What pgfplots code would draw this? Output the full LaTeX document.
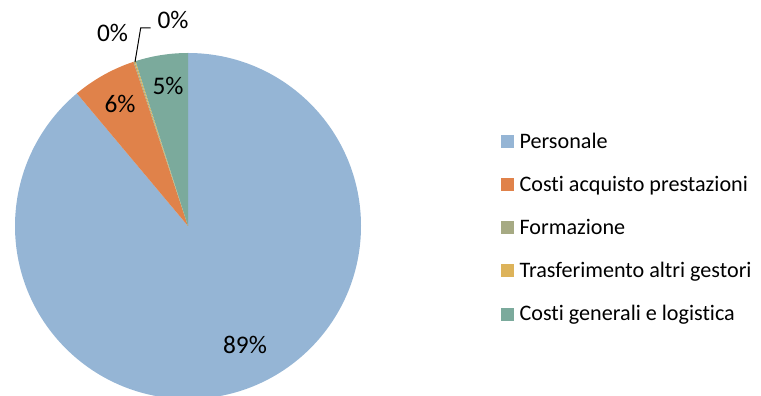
\documentclass[border=0pt]{standalone}
\usepackage{pgfplots}
\pgfplotsset{compat=1.18}
\usepackage{pgfplotstable}
\usepackage{fontspec}
\setmainfont{Carlito}[Ligatures={NoCommon}]

\definecolor{slice0}{HTML}{95B5D5}
\definecolor{slice1}{HTML}{E0824A}
\definecolor{slice2}{HTML}{A6AA83}
\definecolor{slice3}{HTML}{DDB35A}
\definecolor{slice4}{HTML}{7BAA9C}

% shares in percent, clockwise from 12 o'clock
\pgfplotstableread{
share
88.9
6.0
0.1
0.1
4.9
}\piedata

\begin{document}
\begin{tikzpicture}
\begin{axis}[
    scale only axis,
    width=570.75pt, height=297pt,
    xmin=0, xmax=761, ymin=0, ymax=396,
    hide axis,
    clip=true,
    legend cell align=left,
    legend image code/.code={\fill[#1, draw=none] (0pt,-4.9pt) rectangle (9.75pt,4.9pt);},
    legend style={at={(axis cs:501,263.5)}, anchor=north west, draw=none, fill=none,
        font=\fontsize{16.6}{19}\selectfont, row sep=19.4pt, inner sep=0pt,
        nodes={inner xsep=4pt, inner ysep=0pt}},
    ]
    \def\startang{90}
    \pgfplotsforeachungrouped \i in {0,...,4}{%
        \pgfplotstablegetelem{\i}{share}\of\piedata
        \pgfmathsetmacro\endang{\startang-3.6*\pgfplotsretval}%
        \edef\temp{\noexpand\fill[slice\i] (axis cs:188,170) -- ++(\startang:129.75pt)
            arc[start angle=\startang, end angle=\endang, radius=129.75pt] -- cycle;}%
        \temp
        \global\let\startang\endang
    }
    \addlegendimage{fill=slice0}\addlegendentry{Personale}
    \addlegendimage{fill=slice1}\addlegendentry{Costi acquisto prestazioni}
    \addlegendimage{fill=slice2}\addlegendentry{Formazione}
    \addlegendimage{fill=slice3}\addlegendentry{Trasferimento altri gestori}
    \addlegendimage{fill=slice4}\addlegendentry{Costi generali e logistica}

    \begin{scope}[every node/.style={font=\fontsize{19}{22}\selectfont, inner sep=0pt}]
    \node at (axis cs:245,51) {89\%};
    \node at (axis cs:120,292) {6\%};
    \node at (axis cs:168,310) {5\%};
    \node at (axis cs:112.5,363) {0\%};
    \node at (axis cs:173,376) {0\%};
    \end{scope}
    \draw[black, line width=0.75pt] (axis cs:135,334) -- (axis cs:140.7,368) -- (axis cs:150.7,368);
\end{axis}
\pgfresetboundingbox
\path[use as bounding box] (current axis.south west) rectangle (current axis.north east);
\end{tikzpicture}
\end{document}
